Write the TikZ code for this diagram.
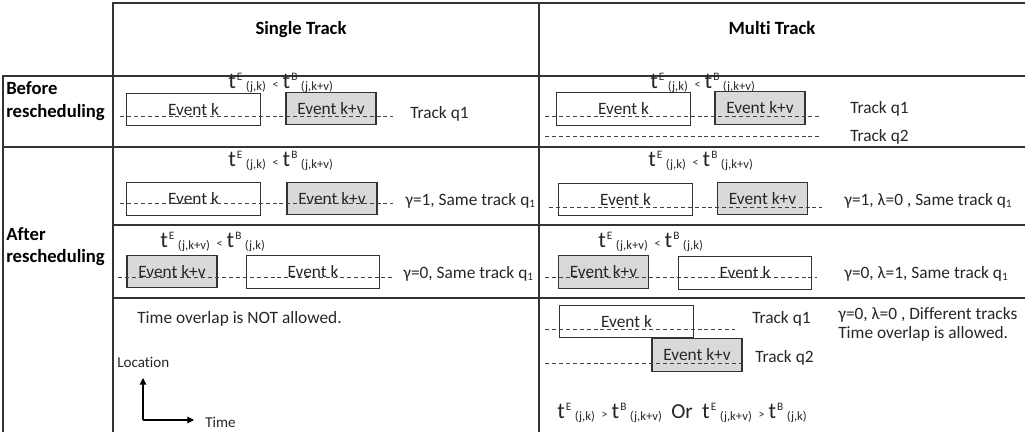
\documentclass[tikz,border=0pt]{standalone}
\usepackage{fontspec}
\setmainfont{Carlito}[Ligatures=NoCommon]
\usetikzlibrary{arrows.meta,positioning}

% t with superscript and lowered index
\newcommand{\tidx}[2]{{\fontsize{17}{17}\selectfont t}\hspace{0.8pt}\raisebox{5.6pt}{\fontsize{8.5}{9}\selectfont #1}\hspace{2.6pt}\raisebox{-1.6pt}{\fontsize{9.5}{10}\selectfont #2}}
\newcommand{\relsym}[1]{\hspace{5pt}\raisebox{0pt}{\fontsize{9}{9}\selectfont #1}\hspace{3pt}}
\newcommand{\qone}{q\raisebox{-2pt}{\fontsize{8.5}{8.5}\selectfont 1}}

\begin{document}
\begin{tikzpicture}[x=0.75pt, y=-0.75pt,
  grid/.style={line width=1pt, black!80},
  evk/.style={draw=black!80, line width=0.8pt, fill=white, minimum width=100pt,
    minimum height=24.5pt, inner sep=0pt, font=\fontsize{13}{13}\selectfont, text=black!85},
  evkv/.style={evk, fill=gray!30, minimum width=67.5pt},
  track/.style={black!75, line width=0.7pt, dash pattern=on 3pt off 2.2pt},
  lbl/.style={anchor=base west, inner sep=0pt, font=\fontsize{13}{15}\selectfont, text=black!85},
  head/.style={anchor=base, inner sep=0pt, font=\bfseries\fontsize{14}{16}\selectfont},
  rowhead/.style={anchor=base west, inner sep=0pt, font=\bfseries\fontsize{14}{16}\selectfont},
  cond/.style={anchor=base west, inner sep=0pt, text=black!85}]

  \useasboundingbox (0,0) rectangle (1025,432);

  % Table lines
  \draw[grid] (113,432) -- (113,3) -- (1025,3);
  \draw[grid] (539,3) -- (539,432);
  \draw[grid] (3,432) -- (3,76) -- (1025,76);
  \draw[grid] (3,147) -- (1025,147);
  \draw[grid] (113,225) -- (1025,225);
  \draw[grid] (113,298) -- (1025,298);

  % Headers
  \node[head] (hsingle) at (301,34) {Single Track};
  \node[head] (hmulti) at (772,35) {Multi Track};
  \node[rowhead] (hbefore) at (6,94) {Before};
  \node[rowhead] (hbefore2) at (6,117) {rescheduling};
  \node[rowhead] (hafter) at (6,240) {After};
  \node[rowhead] (hafter2) at (6,262) {rescheduling};

  % Before rescheduling, single track
  \node[cond] (bsf) at (228,88) {\tidx{E}{(j,k)}\relsym{<}\tidx{B}{(j,k+v)}};
  \node[evk] (bsk) at (193.5,109.5) {Event k\hspace{6pt}};
  \node[evkv] (bskv) at (331,108.5) {Event k+v};
  \draw[track] (120,116) -- (393,116);
  \node[lbl] (bsq) at (410,118) {Track q1};

  % Before rescheduling, multi track
  \node[cond] (bmf) at (650,88) {\tidx{E}{(j,k)}\relsym{<}\tidx{B}{(j,k+v)}};
  \node[evk] (bmk) at (623.5,109) {Event k\hspace{6pt}};
  \node[evkv] (bmkv) at (760,108) {Event k+v};
  \draw[track] (545,116) -- (819,116);
  \draw[track] (545,136) -- (819,136);
  \node[lbl] (bmq1) at (850,113) {Track q1};
  \node[lbl] (bmq2) at (850,141) {Track q2};

  % After rescheduling, same order
  \node[cond] (a1sf) at (228,166) {\tidx{E}{(j,k)}\relsym{<}\tidx{B}{(j,k+v)}};
  \node[evk] (a1sk) at (193.5,199) {Event k\hspace{6pt}};
  \node[evkv] (a1skv) at (332,198.5) {Event k+v};
  \draw[track] (120,203) -- (393,203);
  \node[lbl] (a1st) at (405,205) {γ=1, Same track \qone};

  \node[cond] (a1mf) at (648,166) {\tidx{E}{(j,k)}\relsym{<}\tidx{B}{(j,k+v)}};
  \node[evk] (a1mk) at (625.5,199.5) {Event k\hspace{6pt}};
  \node[evkv] (a1mkv) at (762.5,198.5) {Event k+v};
  \draw[track] (549,207) -- (822,207);
  \node[lbl] (a1mt) at (844,205) {γ=1, λ=0 , Same track \qone};

  % After rescheduling, swapped order
  \node[cond] (a2sf) at (160,247) {\tidx{E}{(j,k+v)}\relsym{<}\tidx{B}{(j,k)}};
  \node[evkv] (a2skv) at (172,271.5) {Event k+v};
  \node[evk] (a2sk) at (313,272) {Event k};
  \draw[track] (118,277) -- (395,277);
  \node[lbl] (a2st) at (403,278) {γ=0, Same track \qone};

  \node[cond] (a2mf) at (598,247) {\tidx{E}{(j,k+v)}\relsym{<}\tidx{B}{(j,k)}};
  \node[evkv] (a2mkv) at (603.5,272) {Event k+v};
  \node[evk] (a2mk) at (745,273) {Event k};
  \draw[track] (545,277) -- (817,277);
  \node[lbl] (a2mt) at (844,278) {γ=0, λ=1, Same track \qone};

  % Overlap, single track
  \node[lbl] (ovs) at (137,323) {Time overlap is NOT allowed.};
  \node[lbl, font=\fontsize{11.3}{13}\selectfont] (loc) at (117,367) {Location};
  \coordinate (orig) at (143,420);
  \coordinate (uptip) at (143,378);
  \coordinate (righttip) at (194,420);
  \draw[-{Triangle[length=5pt,width=5pt]}, line width=0.8pt] (orig) -- (uptip);
  \draw[-{Triangle[length=5pt,width=5pt]}, line width=0.8pt] (orig) -- (righttip);
  \node[lbl, font=\fontsize{11.3}{13}\selectfont] (time) at (205,427) {Time};

  % Overlap, multi track
  \node[evk] (omk) at (626.5,321.5) {Event k\hspace{6pt}};
  \node[evkv] (omkv) at (697,355) {Event k+v};
  \draw[track] (545,329) -- (735,329);
  \draw[track] (545,363) -- (743,363);
  \node[lbl] (omq1) at (752,323) {Track q1};
  \node[lbl] (omq2) at (755,362) {Track q2};
  \node[lbl] (omt1) at (838,319) {γ=0, λ=0 , Different tracks};
  \node[lbl] (omt2) at (838,338) {Time overlap is allowed.};
  \node[cond] (omf) at (557,418) {\tidx{E}{(j,k)}\relsym{>}\tidx{B}{(j,k+v)}%
    \hspace{7pt}{\fontsize{16}{16}\selectfont Or}\hspace{7pt}%
    \tidx{E}{(j,k+v)}\relsym{>}\tidx{B}{(j,k)}};

\end{tikzpicture}
\end{document}
